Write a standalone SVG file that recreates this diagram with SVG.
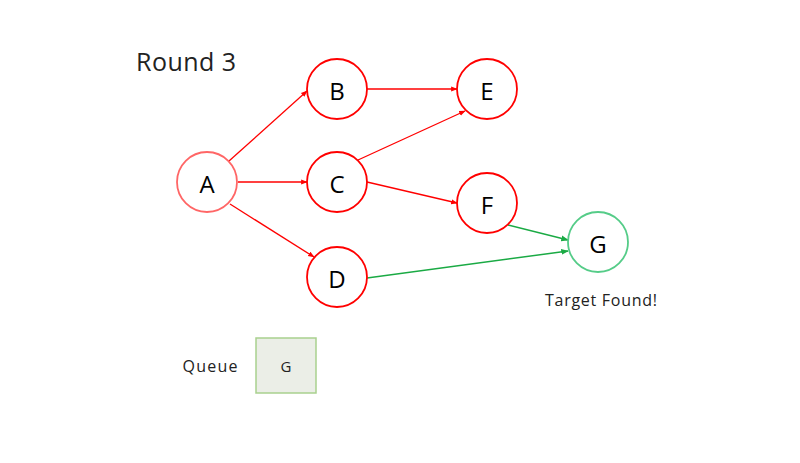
<svg xmlns="http://www.w3.org/2000/svg" width="800" height="463" viewBox="0 0 800 463">
<defs>
<style>
.node{fill:#fff;stroke:#ff0000;stroke-width:1.8}
.lbl{font-family:"Open Sans","Noto Sans",sans-serif;font-size:24px;fill:#000;text-anchor:middle;dominant-baseline:central}
.e{stroke:#ff0000;stroke-width:1.3;fill:none;marker-end:url(#ar)}
.g{stroke:#1aaa44;stroke-width:1.5;fill:none;marker-end:url(#ag)}
.t{font-family:"Open Sans","Noto Sans",sans-serif;fill:#222}
</style>
<marker id="ar" viewBox="0 0 10 10" refX="9" refY="5" markerWidth="5" markerHeight="5" orient="auto"><path d="M0,1 L10,5 L0,9 z" fill="#ff0000"/></marker>
<marker id="ag" viewBox="0 0 10 10" refX="9" refY="5" markerWidth="5" markerHeight="5" orient="auto"><path d="M0,1 L10,5 L0,9 z" fill="#1aaa44"/></marker>
</defs>
<rect width="800" height="463" fill="#fff"/>
<text class="t" x="136" y="71" font-size="25" textLength="100">Round 3</text>
<g id="connectors">
<line class="e" x1="229" y1="161" x2="307" y2="91"/>
<line class="e" x1="238" y1="182" x2="307" y2="182"/>
<line class="e" x1="230" y1="204" x2="314" y2="257"/>
<line class="e" x1="367" y1="89" x2="457" y2="89"/>
<line class="e" x1="358" y1="160" x2="465" y2="111"/>
<line class="e" x1="367" y1="182" x2="457" y2="203"/>
<line class="g" x1="508" y1="225" x2="568" y2="240"/>
<line class="g" x1="367" y1="278" x2="568" y2="251"/>
</g>
<g id="A"><circle class="node" cx="207" cy="182" r="30" style="stroke:#ff6666"/><text class="lbl" x="207" y="183">A</text></g>
<g id="B"><circle class="node" cx="337" cy="89" r="30"/><text class="lbl" x="337" y="90">B</text></g>
<g id="C"><circle class="node" cx="337" cy="182" r="30"/><text class="lbl" x="337" y="183">C</text></g>
<g id="D"><circle class="node" cx="337" cy="277" r="30"/><text class="lbl" x="337" y="278">D</text></g>
<g id="E"><circle class="node" cx="487" cy="89" r="30"/><text class="lbl" x="487" y="90">E</text></g>
<g id="F"><circle class="node" cx="487" cy="203" r="30"/><text class="lbl" x="487" y="204">F</text></g>
<g id="G"><circle class="node" cx="598" cy="242" r="30" style="stroke:#55cc88"/><text class="lbl" x="598" y="243">G</text></g>
<text class="t" x="601" y="306" font-size="16" text-anchor="middle" textLength="112">Target Found!</text>
<g id="queue">
<text class="t" x="210" y="372" font-size="16" text-anchor="middle" textLength="55">Queue</text>
<rect x="256" y="338" width="60" height="55" fill="#ebeee7" stroke="#a9d18e" stroke-width="1.5"/>
<text class="t" x="286" y="372" font-size="15" text-anchor="middle">G</text>
</g>
</svg>
